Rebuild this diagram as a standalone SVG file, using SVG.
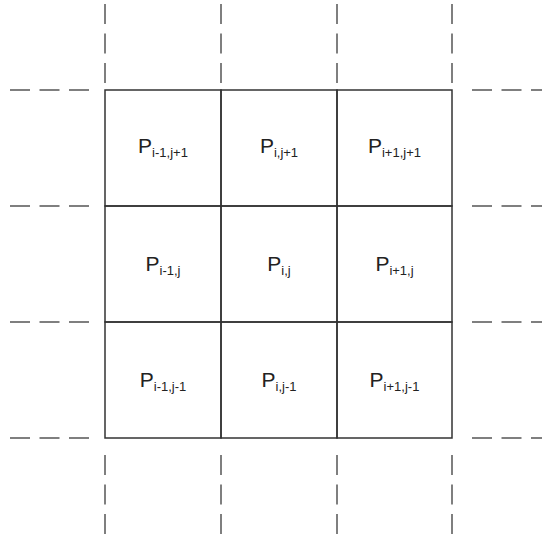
<svg xmlns="http://www.w3.org/2000/svg" width="542" height="535" viewBox="0 0 542 535">
<style>
.grid{stroke:#333;stroke-width:1.5;fill:none}
.dash{stroke:#555;stroke-width:1.5;stroke-dasharray:20 9.5;fill:none}
.lbl{font-family:"Liberation Sans",Arial,sans-serif;font-size:21px;fill:#222;text-anchor:middle}
.sub{font-size:13px}
</style>
<rect width="542" height="535" fill="#fff"/>
<g id="connectors">
<line class="dash" x1="10" y1="90" x2="89" y2="90"/>
<line class="dash" x1="10" y1="206" x2="89" y2="206"/>
<line class="dash" x1="10" y1="322" x2="89" y2="322"/>
<line class="dash" x1="10" y1="438" x2="89" y2="438"/>
<line class="dash" x1="472" y1="90" x2="551" y2="90"/>
<line class="dash" x1="472" y1="206" x2="551" y2="206"/>
<line class="dash" x1="472" y1="322" x2="551" y2="322"/>
<line class="dash" x1="472" y1="438" x2="551" y2="438"/>
<line class="dash" x1="105" y1="4" x2="105" y2="83"/>
<line class="dash" x1="221" y1="4" x2="221" y2="83"/>
<line class="dash" x1="337" y1="4" x2="337" y2="83"/>
<line class="dash" x1="452" y1="4" x2="452" y2="83"/>
<line class="dash" x1="105" y1="455" x2="105" y2="534"/>
<line class="dash" x1="221" y1="455" x2="221" y2="534"/>
<line class="dash" x1="337" y1="455" x2="337" y2="534"/>
<line class="dash" x1="452" y1="455" x2="452" y2="534"/>
</g>
<g id="n-im1-jp1"><rect class="grid" x="105" y="90" width="116" height="116"/><text class="lbl" x="163" y="153">P<tspan class="sub" dy="4">i-1,j+1</tspan></text></g>
<g id="n-i-jp1"><rect class="grid" x="221" y="90" width="116" height="116"/><text class="lbl" x="279" y="153">P<tspan class="sub" dy="4">i,j+1</tspan></text></g>
<g id="n-ip1-jp1"><rect class="grid" x="337" y="90" width="115" height="116"/><text class="lbl" x="394.5" y="153">P<tspan class="sub" dy="4">i+1,j+1</tspan></text></g>
<g id="n-im1-j"><rect class="grid" x="105" y="206" width="116" height="116"/><text class="lbl" x="163" y="271">P<tspan class="sub" dy="4">i-1,j</tspan></text></g>
<g id="n-i-j"><rect class="grid" x="221" y="206" width="116" height="116"/><text class="lbl" x="279" y="271">P<tspan class="sub" dy="4">i,j</tspan></text></g>
<g id="n-ip1-j"><rect class="grid" x="337" y="206" width="115" height="116"/><text class="lbl" x="394.5" y="271">P<tspan class="sub" dy="4">i+1,j</tspan></text></g>
<g id="n-im1-jm1"><rect class="grid" x="105" y="322" width="116" height="116"/><text class="lbl" x="163" y="387">P<tspan class="sub" dy="4">i-1,j-1</tspan></text></g>
<g id="n-i-jm1"><rect class="grid" x="221" y="322" width="116" height="116"/><text class="lbl" x="279" y="387">P<tspan class="sub" dy="4">i,j-1</tspan></text></g>
<g id="n-ip1-jm1"><rect class="grid" x="337" y="322" width="115" height="116"/><text class="lbl" x="394.5" y="387">P<tspan class="sub" dy="4">i+1,j-1</tspan></text></g>
</svg>
